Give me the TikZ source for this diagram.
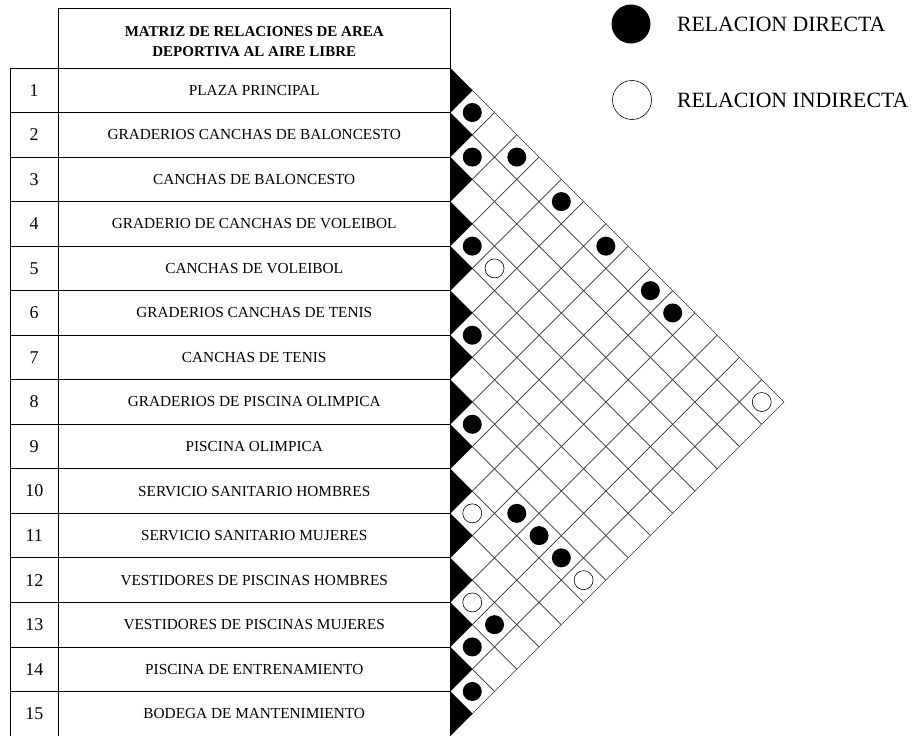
\documentclass[tikz,border=0pt]{standalone}
\usepackage{fontspec}
\setmainfont{Liberation Serif}
\tikzset{
  numbox/.style={draw, line width=0.8pt, minimum width=48.5pt, minimum height=44.533pt, inner sep=0pt, font=\fontsize{18}{20}\selectfont},
  namebox/.style={draw, line width=0.8pt, minimum width=391.5pt, minimum height=44.533pt, inner sep=0pt, font=\fontsize{15.3}{17}\selectfont},
  directa/.style={circle, fill=black, minimum size=19pt, inner sep=0pt},
  indirecta/.style={circle, draw=black, fill=white, line width=0.6pt, minimum size=19pt, inner sep=0pt},
  gridline/.style={line width=0.7pt, draw=black!80},
}
\begin{document}
\begin{tikzpicture}[x=1pt, y=-1pt]
  \useasboundingbox (0,0) rectangle (914,736);
  \def\h{44.533}
  \def\hh{22.267}

  % encabezado
  \node[draw, line width=0.8pt, minimum width=391.5pt, minimum height=60pt, inner sep=0pt] (encabezado) at (254.25,38) {};
  \node[font=\bfseries\fontsize{15}{20}\selectfont, align=center] (titulo) at (254.25,42) {MATRIZ DE RELACIONES DE AREA\\DEPORTIVA AL AIRE LIBRE};

  % filas
  \foreach \nombre [count=\i] in {PLAZA PRINCIPAL, GRADERIOS CANCHAS DE BALONCESTO, CANCHAS DE BALONCESTO, GRADERIO DE CANCHAS DE VOLEIBOL, CANCHAS DE VOLEIBOL, GRADERIOS CANCHAS DE TENIS, CANCHAS DE TENIS, GRADERIOS DE PISCINA OLIMPICA, PISCINA OLIMPICA, SERVICIO SANITARIO HOMBRES, SERVICIO SANITARIO MUJERES, VESTIDORES DE PISCINAS HOMBRES, VESTIDORES DE PISCINAS MUJERES, PISCINA DE ENTRENAMIENTO, BODEGA DE MANTENIMIENTO} {
    \node[numbox] (num\i) at (34.25, {68+(\i-0.5)*\h}) {\i};
    \node[namebox] (area\i) at (254.25, {68+(\i-0.5)*\h}) {\nombre};
  }

  % matriz
  \foreach \k in {0,...,14}
    \draw[gridline] (450, {68+\k*\h}) -- ++({(736-68-\k*\h)/2}, {(736-68-\k*\h)/2});
  \foreach \k in {1,...,15}
    \draw[gridline] (450, {68+\k*\h}) -- ++({\k*\h/2}, {-\k*\h/2});
  \foreach \i in {1,...,15}
    \fill (450, {68+(\i-1)*\h}) -- ++(\hh, \hh) -- ++(-\hh, \hh) -- cycle;

  % relaciones
  \foreach \a/\b in {1/2, 2/3, 1/4, 1/6, 4/5, 1/8, 1/10, 1/11, 6/7, 8/9, 9/12, 9/13, 9/14, 12/14, 13/14, 14/15}
    \node[directa] (d\a-\b) at ({450+(\b-\a)*\hh}, {68+(\a+\b-1)*\hh}) {};
  \foreach \a/\b in {4/6, 1/15, 10/11, 9/15, 12/13}
    \node[indirecta] (i\a-\b) at ({450+(\b-\a)*\hh}, {68+(\a+\b-1)*\hh}) {};

  % leyenda
  \node[directa, minimum size=39pt] (leyDirecta) at (631,24) {};
  \node[anchor=west, font=\fontsize{21.8}{23}\selectfont] (txtDirecta) at (673.5,24) {RELACION DIRECTA};
  \node[indirecta, minimum size=39pt] (leyIndirecta) at (632,100) {};
  \node[anchor=west, font=\fontsize{21.8}{23}\selectfont] (txtIndirecta) at (673.5,100) {RELACION INDIRECTA};
\end{tikzpicture}
\end{document}
